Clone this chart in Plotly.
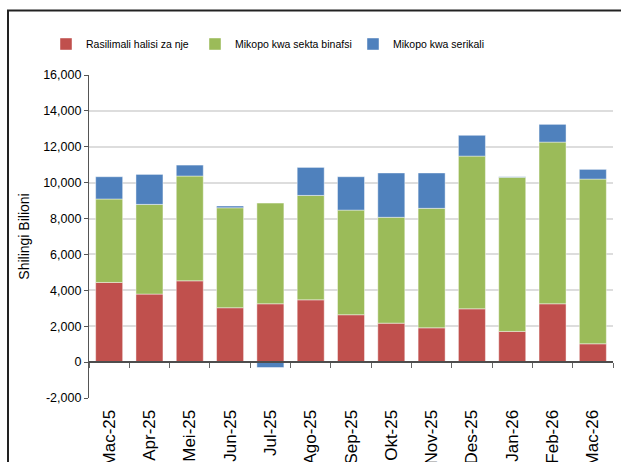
import plotly.graph_objects as go

# Mwezi (x-axis categories)
months = ['Mac-25', 'Apr-25', 'Mei-25', 'Jun-25', 'Jul-25', 'Ago-25', 'Sep-25',
          'Okt-25', 'Nov-25', 'Des-25', 'Jan-26', 'Feb-26', 'Mac-26']

# Shilingi bilioni
rasilimali_nje = [4440, 3790, 4530, 3030, 3250, 3470, 2640, 2170, 1910, 2970, 1710, 3250, 1020]
mikopo_binafsi = [4650, 5000, 5840, 5570, 5610, 5820, 5830, 5900, 6660, 8510, 8590, 9010, 9180]
mikopo_serikali = [1240, 1670, 610, 100, -300, 1560, 1860, 2470, 1970, 1160, 30, 990, 540]

y_ticks = list(range(-2000, 16001, 2000))
y_labels = [f'{v:,}' for v in y_ticks]  # plain hyphen for -2,000

FONT = 'Liberation Sans, Arial, sans-serif'

FIG_W, FIG_H = 621, 462
# plot area edges in pixels: x 89..613, y 75..398
L, R = 89, FIG_W - 613
T, B = 75, FIG_H - 398
W = FIG_W - L - R
H = FIG_H - T - B


def px_x(px):
    return (px - L) / W


def px_y(py):
    return (FIG_H - B - py) / H


fig = go.Figure()
series = [
    ('Rasilimali halisi za nje', rasilimali_nje, '#C0504D', 'legend', 78),
    ('Mikopo kwa sekta binafsi', mikopo_binafsi, '#9BBB59', 'legend2', 227),
    ('Mikopo kwa serikali', mikopo_serikali, '#4F81BD', 'legend3', 385),
]
for name, vals, color, leg, _ in series:
    fig.add_trace(go.Bar(
        x=months, y=vals, name=name, legend=leg,
        marker=dict(color=color, line=dict(color='rgba(255,255,255,0.55)', width=0.8)),
    ))

# dummy trace so the zero-line axis gets drawn
fig.add_trace(go.Scatter(x=months, y=[0] * len(months), xaxis='x2', mode='markers',
                         marker=dict(opacity=0), showlegend=False, hoverinfo='skip'))

legend_style = dict(orientation='h', yanchor='middle', y=px_y(44), xanchor='left',
                    bgcolor='rgba(0,0,0,0)', itemwidth=30,
                    font=dict(family=FONT, size=10.5, color='#000'))
layouts = {}
for name, vals, color, leg, text_x in series:
    layouts[leg] = dict(legend_style, x=px_x(text_x - 32))

fig.update_layout(
    width=FIG_W, height=FIG_H,
    margin=dict(l=L, r=R, t=T, b=B, autoexpand=False),
    paper_bgcolor='white', plot_bgcolor='white',
    barmode='relative', bargap=0.33,
    showlegend=True,
    **layouts,
    xaxis=dict(
        type='category', categoryarray=months, range=[-0.5, len(months) - 0.5],
        showgrid=False, showline=False, zeroline=False,
        ticks='outside', ticklen=4, tickcolor='rgba(0,0,0,0)',
        tickangle=-90, tickfont=dict(family=FONT, size=17, color='#000'),
    ),
    xaxis2=dict(
        type='category', categoryarray=months, range=[-0.5, len(months) - 0.5],
        overlaying='x', anchor='free', position=2000 / 18000,
        showline=True, linecolor='#4d4d4d', linewidth=1.5,
        ticks='outside', tickson='boundaries', ticklen=5, tickcolor='#666', tickwidth=1,
        showticklabels=False, showgrid=False, zeroline=False,
    ),
    yaxis=dict(
        range=[-2000, 16000], tickvals=y_ticks, ticktext=y_labels,
        showgrid=True, gridcolor='#DDDDDD', gridwidth=1.5, zeroline=False,
        showline=True, linecolor='#555', linewidth=1.2,
        ticks='outside', ticklen=4, tickcolor='#555',
        tickfont=dict(family=FONT, size=12.5, color='#000'),
        title=dict(text='Shilingi Bilioni', standoff=10,
                   font=dict(family=FONT, size=14, color='#000')),
    ),
    shapes=[dict(type='rect', xref='paper', yref='paper',
                 x0=px_x(8), x1=px_x(700), y0=px_y(600), y1=px_y(10.5),
                 line=dict(color='#222', width=2), fillcolor='rgba(0,0,0,0)', layer='above')],
)

# drop the default body margin so the figure fills the window exactly
fig.write_html('out.html', config={'displayModeBar': False},
               post_script="document.body.style.margin = '0';")
